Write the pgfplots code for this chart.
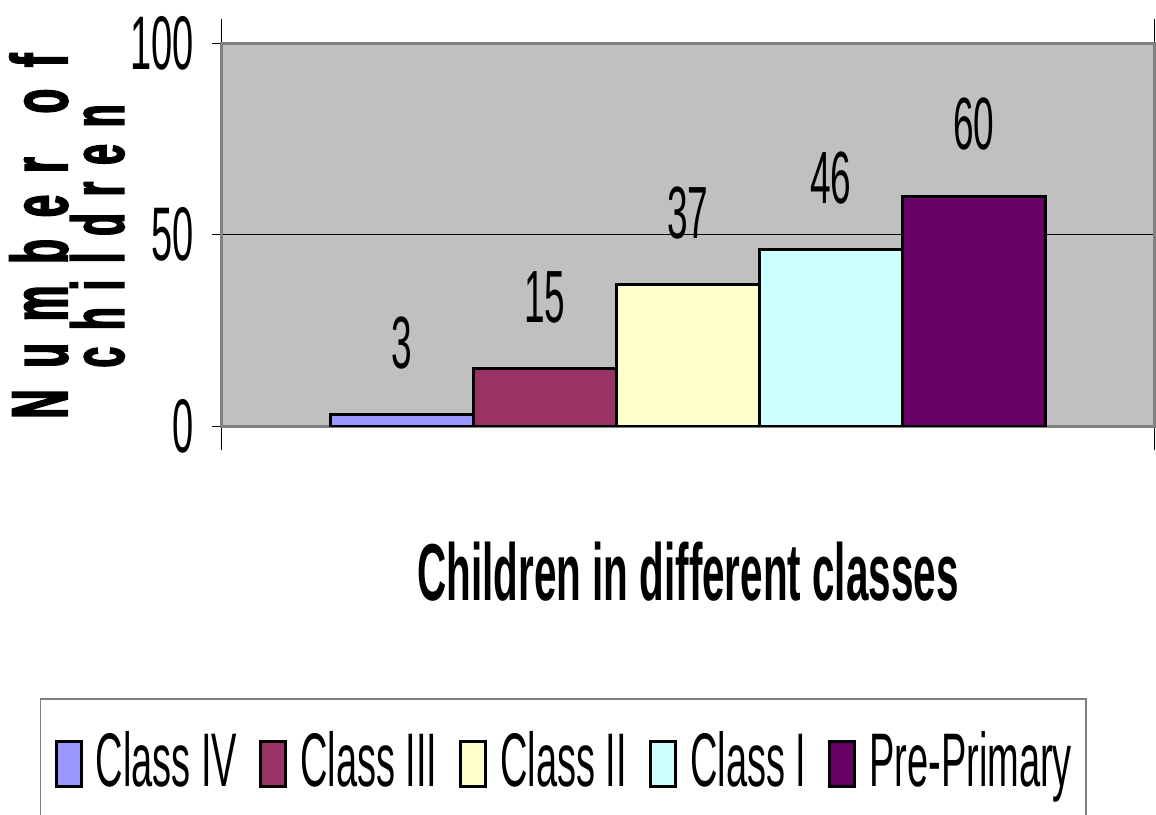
\documentclass[border=0pt]{standalone}
\usepackage{fontspec}
\setmainfont{Liberation Sans}[FakeStretch=0.5]
\newfontfamily\ylfont{Liberation Sans Bold}[FakeStretch=0.5, FakeBold=2]
\usepackage{pgfplots}
\pgfplotsset{compat=1.18}
\definecolor{cIV}{HTML}{9999FF}
\definecolor{cIII}{HTML}{993366}
\definecolor{cII}{HTML}{FFFFCC}
\definecolor{cI}{HTML}{CCFFFF}
\definecolor{cPP}{HTML}{660066}
\definecolor{bgc}{HTML}{C0C0C0}
\definecolor{frame}{HTML}{808080}
\newcommand{\ga}{\hspace{11pt}}
\newcommand{\gb}{\hspace{8.5pt}}
\begin{document}
\begin{tikzpicture}
\begin{axis}[
  scale only axis, width=466pt, height=191.5pt,
  xmin=-1, xmax=1, ymin=0, ymax=100,
  ybar=0pt, bar width=71.5pt,
  ytick={0,50,100}, xtick={-1,1}, xticklabels={},
  tick align=outside,
  major tick length=5pt,
  xtick style={/pgfplots/major tick length=12pt, black, line width=0.5pt},
  ytick style={black, line width=0.5pt},
  ymajorgrids, major grid style={black, line width=0.5pt},
  axis background/.style={fill=bgc},
  axis line style={draw=frame, line width=1.5pt},
  /pgf/number format/assume math mode=true,
  yticklabel style={font=\fontsize{38}{40}\selectfont, inner sep=0pt, anchor=east, xshift=-9pt},
  nodes near coords,
  nodes near coords style={font=\fontsize{37}{40}\selectfont, anchor=south, inner sep=0pt, yshift=22pt, black},
  xlabel={Children in different classes},
  xlabel style={font=\bfseries\fontsize{40.4}{42}\selectfont, at={(axis description cs:0.5,0)}, anchor=base, yshift=-87pt, inner sep=0pt},
  ylabel={{\ylfont\fontsize{40}{23.5}\selectfont N\ga u\ga m\ga b\ga e\ga r\ga\ga o\ga f}\\{\ylfont\fontsize{37}{23.5}\selectfont c\gb h\gb i\gb l\gb d\gb r\gb e\gb n\hspace{22pt}}},
  ylabel style={font=\ylfont\fontsize{40}{23.5}\selectfont, align=center, at={(axis description cs:-0.1663,0.496)}, anchor=center, inner sep=0pt},
  legend columns=-1,
  legend image code/.code={\draw[#1, line width=1.5pt] (0pt,0pt) rectangle (12.5pt,22.5pt);},
  legend style={at={(axis description cs:-0.1953,-0.7102)}, anchor=north west,
    draw=frame, line width=0.75pt, inner xsep=7pt, inner ysep=15pt,
    font=\fontsize{38}{40}\selectfont,
    nodes={inner sep=0pt, text height=29pt, text depth=8pt, anchor=base west},
    /tikz/every odd column/.append style={column sep=6.5pt},
    /tikz/every even column/.append style={column sep=11pt}},
]
\addplot[fill=cIV, draw=black, line width=1.5pt] coordinates {(0,3)};
\addplot[fill=cIII, draw=black, line width=1.5pt] coordinates {(0,15)};
\addplot[fill=cII, draw=black, line width=1.5pt] coordinates {(0,37)};
\addplot[fill=cI, draw=black, line width=1.5pt] coordinates {(0,46)};
\addplot[fill=cPP, draw=black, line width=1.5pt] coordinates {(0,60)};
\legend{Class IV, Class III, Class II, Class I, Pre-Primary}
\coordinate (BL) at (rel axis cs:0,0);
\coordinate (TR) at (rel axis cs:1,1);
\end{axis}
\pgfresetboundingbox
\path[use as bounding box] ([shift={(-111pt,-194pt)}]BL) rectangle ([shift={(1pt,21.5pt)}]TR);
\end{tikzpicture}
\end{document}
